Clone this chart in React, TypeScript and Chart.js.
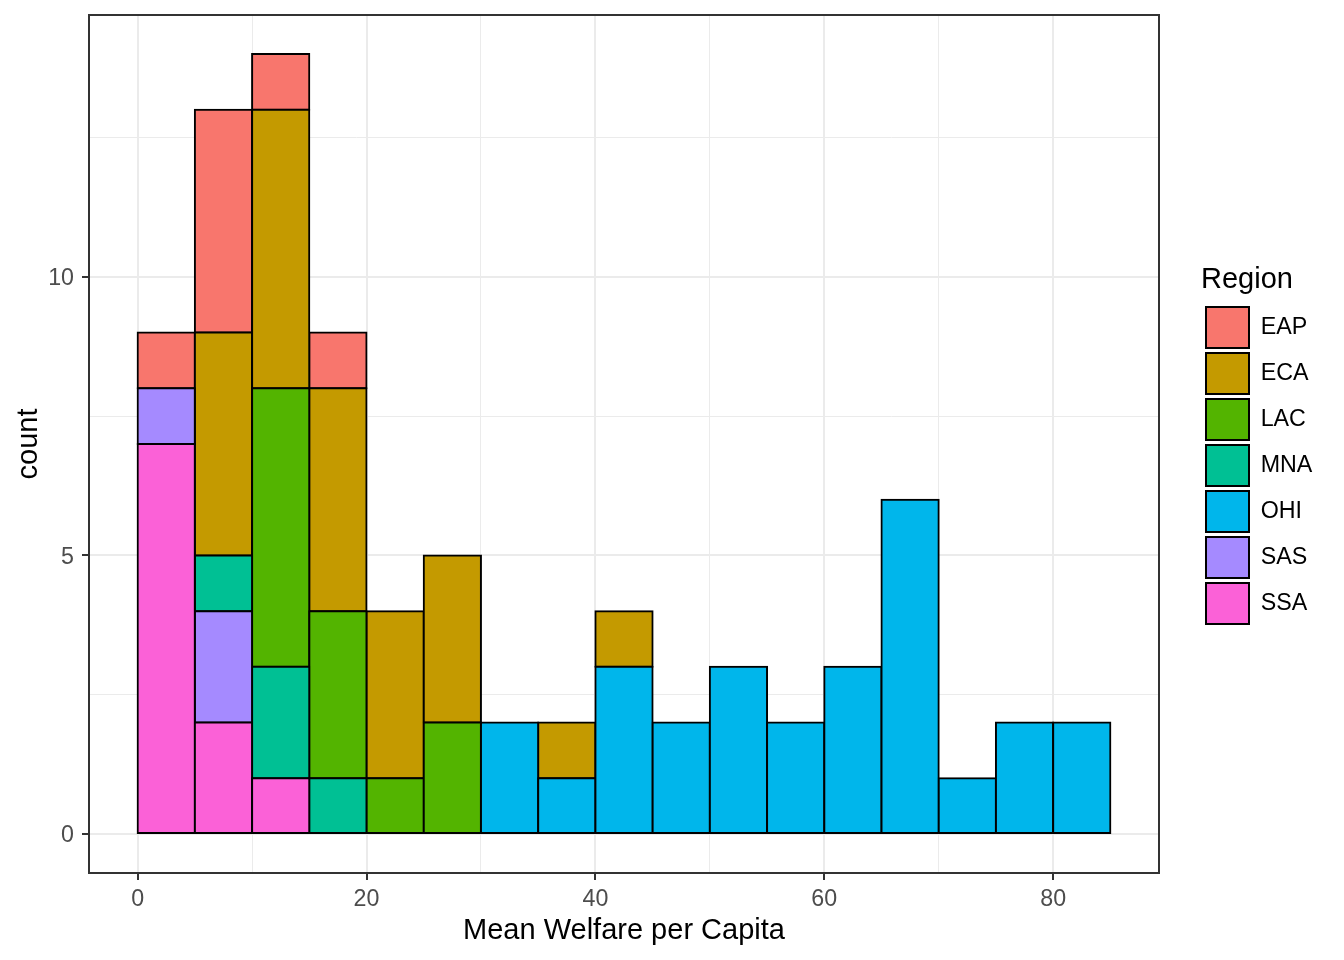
import React, { useEffect, useRef } from 'react';
import { Chart, registerables } from 'chart.js';

Chart.register(...registerables);

// ---- data ----
const BIN_STARTS = [0, 5, 10, 15, 20, 25, 30, 35, 40, 45, 50, 55, 60, 65, 70, 75, 80];
const BIN_WIDTH = 5;

const EAP = [1, 4, 1, 1, 0, 0, 0, 0, 0, 0, 0, 0, 0, 0, 0, 0, 0];
const ECA = [0, 4, 5, 4, 3, 3, 0, 1, 1, 0, 0, 0, 0, 0, 0, 0, 0];
const LAC = [0, 0, 5, 3, 1, 2, 0, 0, 0, 0, 0, 0, 0, 0, 0, 0, 0];
const MNA = [0, 1, 2, 1, 0, 0, 0, 0, 0, 0, 0, 0, 0, 0, 0, 0, 0];
const OHI = [0, 0, 0, 0, 0, 0, 2, 1, 3, 2, 3, 2, 3, 6, 1, 2, 2];
const SAS = [1, 2, 0, 0, 0, 0, 0, 0, 0, 0, 0, 0, 0, 0, 0, 0, 0];
const SSA = [7, 2, 1, 0, 0, 0, 0, 0, 0, 0, 0, 0, 0, 0, 0, 0, 0];

const REGIONS = ['EAP', 'ECA', 'LAC', 'MNA', 'OHI', 'SAS', 'SSA'];
const REGION_COLORS = ['#F8766D', '#C49A00', '#53B400', '#00C094', '#00B6EB', '#A58AFF', '#FB61D7'];
const REGION_VALUES = [EAP, ECA, LAC, MNA, OHI, SAS, SSA];

const X_TICKS = [0, 10, 20, 30, 40, 50, 60, 70, 80];
const X_MAJOR = [0, 20, 40, 60, 80];
const Y_TICKS = [0, 2.5, 5, 7.5, 10, 12.5];
const Y_MAJOR = [0, 5, 10];

const X_MIN = -4.25;
const X_MAX = 89.25;
const Y_MIN = -0.7;
const Y_MAX = 14.7;

const X_TITLE = 'Mean Welfare per Capita';
const Y_TITLE = 'count';
const LEGEND_TITLE = 'Region';

const FONT = "'Liberation Sans', Arial, Helvetica, sans-serif";
const LEGEND_FONT_SIZE = 23.25;
const LEGEND_BOX_W = 43;
const LEGEND_PAD = 5;
const LEGEND_LEFT = 1201;
const CANVAS_W = 1344;

const panelBorder = {
  id: 'panelBorder',
  afterDatasetsDraw(chart: any) {
    const { ctx, chartArea } = chart;
    const { left, top, right, bottom } = chartArea;
    ctx.save();
    ctx.strokeStyle = '#333333';
    ctx.lineWidth = 2;
    ctx.strokeRect(left, top, right - left, bottom - top);
    ctx.restore();
  },
};

export default function App() {
  const canvasRef = useRef<HTMLCanvasElement | null>(null);

  useEffect(() => {
    if (!canvasRef.current) return;

    // measure legend labels so that the legend starts where it should
    const mctx = document.createElement('canvas').getContext('2d') as CanvasRenderingContext2D;
    mctx.font = `${LEGEND_FONT_SIZE}px ${FONT}`;
    const maxTextW = Math.max(...REGIONS.map((r) => mctx.measureText(r).width));
    const legendW = LEGEND_PAD + LEGEND_BOX_W + LEGEND_FONT_SIZE / 2 + maxTextW + 10;
    const padRight = Math.max(0, CANVAS_W - LEGEND_LEFT - legendW);

    // stacking order bottom -> top is the reverse of the legend order
    const datasets = REGIONS.map((name, r) => ({
      label: name,
      data: BIN_STARTS.map((s, i) => ({ x: s + BIN_WIDTH / 2, y: REGION_VALUES[r][i] })).filter(
        (p) => p.y > 0
      ),
      backgroundColor: REGION_COLORS[r],
      borderColor: '#000000',
      borderWidth: 2,
      borderSkipped: false as any,
      inflateAmount: 1,
      categoryPercentage: 1,
      barPercentage: 1,
      stack: 'all',
    })).reverse();

    const isMajorX = (v: number) => X_MAJOR.includes(v);
    const isMajorY = (v: number) => Y_MAJOR.includes(v);

    const chart = new Chart(canvasRef.current, {
      type: 'bar',
      data: { datasets: datasets as any },
      plugins: [panelBorder],
      options: {
        animation: false,
        responsive: true,
        maintainAspectRatio: false,
        events: [],
        layout: { padding: { left: 0, top: 15, right: padRight, bottom: 0 } },
        plugins: {
          tooltip: { enabled: false },
          legend: {
            display: true,
            position: 'right',
            align: 'center',
            fullSize: false,
            reverse: true,
            labels: {
              boxWidth: LEGEND_BOX_W,
              boxHeight: 41,
              padding: LEGEND_PAD,
              color: '#000000',
              font: { family: FONT, size: LEGEND_FONT_SIZE },
            },
            title: {
              display: true,
              text: LEGEND_TITLE,
              color: '#000000',
              position: 'start',
              font: { family: FONT, size: 29, lineHeight: 1.2 },
              padding: { top: 6, bottom: 2.2 },
            },
          } as any,
        },
        scales: {
          x: {
            type: 'linear',
            stacked: true,
            offset: false,
            min: X_MIN,
            max: X_MAX,
            afterBuildTicks: (scale: any) => {
              scale.ticks = X_TICKS.map((v) => ({ value: v }));
            },
            afterFit: (scale: any) => {
              scale.height = 87;
            },
            ticks: {
              autoSkip: false,
              maxRotation: 0,
              minRotation: 0,
              padding: 6,
              color: '#4D4D4D',
              font: { family: FONT, size: 23.25 },
              callback: (v: any) => (isMajorX(Number(v)) ? String(v) : ''),
            },
            grid: {
              offset: false,
              color: '#EBEBEB',
              lineWidth: (ctx: any) => (ctx.tick && isMajorX(ctx.tick.value) ? 2 : 1),
              drawTicks: true,
              tickLength: 7,
              tickWidth: 2,
              tickColor: (ctx: any) =>
                ctx.tick && isMajorX(ctx.tick.value) ? '#333333' : 'rgba(0,0,0,0)',
            },
            border: { display: false },
            title: {
              display: true,
              text: X_TITLE,
              color: '#000000',
              font: { family: FONT, size: 29, lineHeight: 1.2 },
              padding: { top: 0, bottom: 11.4 },
            },
          },
          y: {
            type: 'linear',
            stacked: true,
            min: Y_MIN,
            max: Y_MAX,
            afterBuildTicks: (scale: any) => {
              scale.ticks = Y_TICKS.map((v) => ({ value: v }));
            },
            afterFit: (scale: any) => {
              scale.width = 89;
            },
            ticks: {
              autoSkip: false,
              padding: 8,
              labelOffset: 2,
              color: '#4D4D4D',
              font: { family: FONT, size: 23.25, lineHeight: 0.5 },
              callback: (v: any) => (isMajorY(Number(v)) ? String(v) : ''),
            },
            grid: {
              color: '#EBEBEB',
              lineWidth: (ctx: any) => (ctx.tick && isMajorY(ctx.tick.value) ? 2 : 1),
              drawTicks: true,
              tickLength: 7,
              tickWidth: 2,
              tickColor: (ctx: any) =>
                ctx.tick && isMajorY(ctx.tick.value) ? '#333333' : 'rgba(0,0,0,0)',
            },
            border: { display: false },
            title: {
              display: true,
              text: Y_TITLE,
              color: '#000000',
              font: { family: FONT, size: 29, lineHeight: 1.2 },
              padding: { top: 12, bottom: 0 },
            },
          },
          spacer: {
            type: 'linear',
            position: 'right',
            display: true,
            grid: { display: false, drawTicks: false },
            ticks: { display: false },
            border: { display: false },
            afterFit: (scale: any) => {
              scale.width = 42;
            },
          },
        } as any,
      },
    });

    return () => {
      chart.destroy();
    };
  }, []);

  return (
    <div style={{ position: 'absolute', left: 0, top: 0, width: 1344, height: 960, background: '#ffffff' }}>
      <canvas ref={canvasRef} />
    </div>
  );
}
